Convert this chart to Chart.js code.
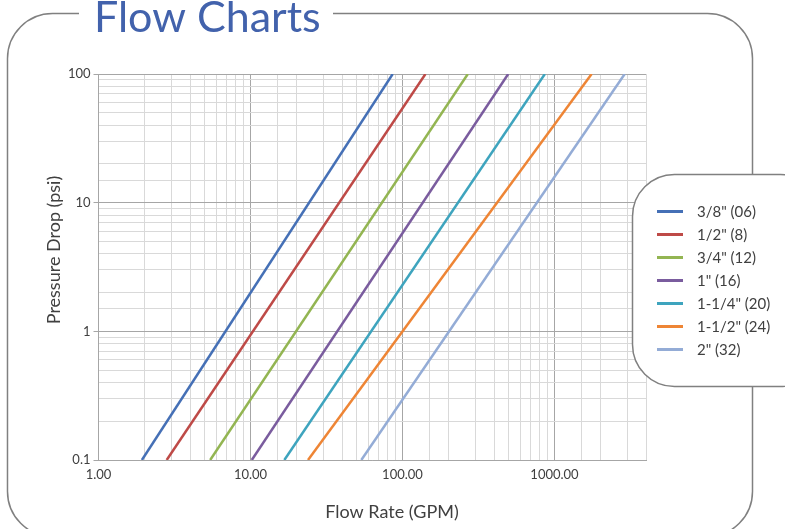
<!DOCTYPE html>
<html>
<head>
<meta charset="utf-8">
<script src="https://cdn.jsdelivr.net/npm/chart.js@4/dist/chart.umd.min.js"></script>
<style>
  html, body { margin: 0; padding: 0; background: #fff; }
  #wrap { width: 785px; height: 529px; position: relative; }
</style>
</head>
<body>
<div id="wrap"><canvas id="flow-chart"></canvas></div>
<script>
// sizes (legend labels)
var sizeLabels = ['3/8" (06)', '1/2" (8)', '3/4" (12)', '1" (16)', '1-1/4" (20)', '1-1/2" (24)', '2" (32)'];
var sizeColors = ['#4570B6', '#BE4A47', '#93B552', '#7A5C9E', '#3EA4BE', '#EE8535', '#94ACD6'];

// pressure drop (psi) at the two ends of every line
var pressureDrop = [0.1, 100];

// flow rate (GPM) at 0.1 psi and at 100 psi
var flow06 = [1.93, 86.2];
var flow08 = [2.81, 141.6];
var flow12 = [5.43, 269];
var flow16 = [10.2, 496];
var flow20 = [16.7, 864];
var flow24 = [23.9, 1755];
var flow32 = [53.6, 2897];

// labelled ticks
var flowTicks = [1, 10, 100, 1000];
var pressureTicks = [0.1, 1, 10, 100];

var allFlows = [flow06, flow08, flow12, flow16, flow20, flow24, flow32];

function isDecade(v) {
  var l = Math.log10(v);
  return Math.abs(l - Math.round(l)) < 1e-9;
}
function inList(list, v) {
  for (var i = 0; i < list.length; i++) {
    if (Math.abs(list[i] - v) / list[i] < 1e-9) return true;
  }
  return false;
}

var datasets = allFlows.map(function(flows, i) {
  return {
    label: sizeLabels[i],
    data: flows.map(function(f, j) { return { x: f, y: pressureDrop[j] }; }),
    borderColor: sizeColors[i],
    backgroundColor: sizeColors[i],
    borderWidth: 2.5,
    pointRadius: 0,
    showLine: true,
    fill: false
  };
});

var textColor = '#404040';
var fontFamily = 'Lato, "Open Sans", sans-serif';

// frame, title, axis titles and the rounded legend box
var decorations = {
  id: 'decorations',
  beforeDraw: function(chart) {
    var ctx = chart.ctx;
    ctx.save();
    ctx.fillStyle = '#fff';
    ctx.fillRect(0, 0, chart.width, chart.height);
    ctx.strokeStyle = '#808080';
    ctx.lineWidth = 1.5;
    ctx.beginPath();
    ctx.roundRect(7.5, 13.5, 745, 523, 45);
    ctx.stroke();
    // gap for the title
    ctx.fillRect(79, 4, 254, 20);
    ctx.fillStyle = '#4262AC';
    ctx.font = '43px ' + fontFamily;
    ctx.textBaseline = 'alphabetic';
    ctx.textAlign = 'left';
    ctx.fillText('Flow Charts', 94, 32);
    // x axis title
    ctx.fillStyle = textColor;
    ctx.font = '18px ' + fontFamily;
    ctx.textAlign = 'center';
    ctx.textBaseline = 'middle';
    ctx.fillText('Flow Rate (GPM)', 392, 512);
    // y axis title
    ctx.translate(54, 250);
    ctx.rotate(-Math.PI / 2);
    ctx.fillText('Pressure Drop (psi)', 0, 0);
    ctx.restore();
  },
  afterDraw: function(chart) {
    var ctx = chart.ctx;
    ctx.save();
    ctx.fillStyle = '#fff';
    ctx.strokeStyle = '#808080';
    ctx.lineWidth = 1.5;
    ctx.beginPath();
    ctx.roundRect(632.5, 174.5, 190, 212, 42);
    ctx.fill();
    ctx.stroke();
    ctx.font = '15px ' + fontFamily;
    ctx.textAlign = 'left';
    ctx.textBaseline = 'middle';
    chart.data.datasets.forEach(function(ds, i) {
      var y = 211.5 + i * 23;
      ctx.strokeStyle = ds.borderColor;
      ctx.lineWidth = 3;
      ctx.beginPath();
      ctx.moveTo(657, y);
      ctx.lineTo(683, y);
      ctx.stroke();
      ctx.fillStyle = textColor;
      ctx.fillText(ds.label, 697, y + 0.5);
    });
    ctx.restore();
  }
};

function gridColor(ctx) {
  if (!ctx.tick) return '#d9d9d9';
  return isDecade(ctx.tick.value) ? '#a6a6a6' : '#d9d9d9';
}

var ctx = document.getElementById('flow-chart').getContext('2d');
var flowChart = new Chart(ctx, {
  type: 'scatter',
  data: { datasets: datasets },
  options: {
    responsive: true,
    maintainAspectRatio: false,
    animation: false,
    layout: { padding: { top: 74, right: 139, left: 0, bottom: 0 } },
    plugins: {
      legend: { display: false },
      title: { display: false },
      tooltip: { enabled: false }
    },
    scales: {
      x: {
        type: 'logarithmic',
        min: 1,
        max: 4000,
        afterFit: function(scale) { scale.height = 69; },
        border: { color: '#a6a6a6' },
        grid: { color: gridColor, drawTicks: false },
        ticks: {
          autoSkip: false,
          maxRotation: 0,
          padding: 7,
          color: textColor,
          font: { family: fontFamily, size: 13 },
          callback: function(v) { return inList(flowTicks, v) ? Number(v).toFixed(2) : ''; }
        }
      },
      y: {
        type: 'logarithmic',
        min: 0.1,
        max: 100,
        afterFit: function(scale) { scale.width = 98.5; },
        border: { color: '#a6a6a6' },
        grid: {
          color: gridColor,
          tickLength: 5,
          tickColor: function(c) { return c.tick && isDecade(c.tick.value) ? '#a6a6a6' : 'rgba(0,0,0,0)'; }
        },
        ticks: {
          autoSkip: false,
          padding: 3,
          color: textColor,
          font: { family: fontFamily, size: 13 },
          callback: function(v) { return inList(pressureTicks, v) ? String(Number(v)) : ''; }
        }
      }
    }
  },
  plugins: [decorations]
});
</script>
</body>
</html>
